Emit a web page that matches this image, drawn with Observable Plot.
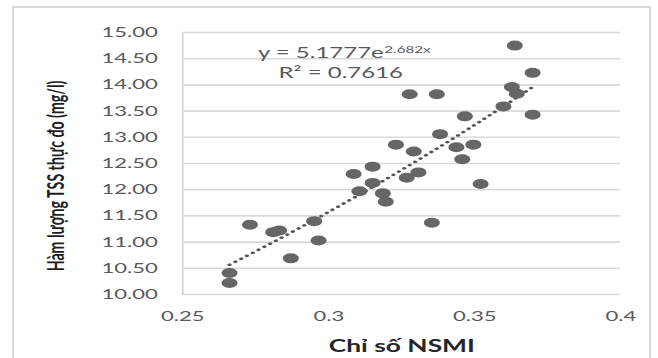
<!DOCTYPE html>
<html>
<head>
<meta charset="utf-8">
<script src="https://cdn.jsdelivr.net/npm/d3@7"></script>
<script src="https://cdn.jsdelivr.net/npm/@observablehq/plot@0.6"></script>
<style>
  html, body { margin: 0; padding: 0; background: #fff; }
  #wrap { position: relative; width: 658px; height: 358px; overflow: hidden; background: #fff; }
  #border { position: absolute; left: 12px; top: 6px; width: 639px; height: 400px; border: 2px solid #d9d9d9; box-sizing: border-box; }
  #chart { position: absolute; left: 0; top: 0; transform: scaleX(1.6); transform-origin: 0 0; }
</style>
</head>
<body>
<div id="wrap"><div id="border"></div><div id="chart"></div></div>
<script>
// Data
const nsmi = [0.266, 0.266, 0.273, 0.281, 0.283, 0.287, 0.295, 0.2965, 0.3085, 0.3105, 0.315, 0.315, 0.3185, 0.3195, 0.323, 0.3267, 0.3277, 0.3291, 0.3307, 0.3353, 0.337, 0.3381, 0.3437, 0.3457, 0.3466, 0.3495, 0.352, 0.3598, 0.3627, 0.3637, 0.3644, 0.3698, 0.3698];
const tss  = [10.41, 10.22, 11.33, 11.19, 11.22, 10.69, 11.40, 11.03, 12.30, 11.97, 12.44, 12.13, 11.93, 11.77, 12.86, 12.23, 13.82, 12.73, 12.33, 11.37, 13.82, 13.06, 12.81, 12.58, 13.40, 12.86, 12.11, 13.59, 13.96, 14.75, 13.83, 14.23, 13.43];
const xTicks = [0.25, 0.3, 0.35, 0.4];
const xTickLabels = ["0.25", "0.3", "0.35", "0.4"];
const yTicks = [10, 10.5, 11, 11.5, 12, 12.5, 13, 13.5, 14, 14.5, 15];
const fitA = 5.1777, fitB = 2.682;
const eqMain = "y = 5.1777e";
const eqSup = "2.682x";
const eqR2 = "R² = 0.7616";
const xTitle = "Chỉ số NSMI";
const yTitle = "Hàm lượng TSS thực đo (mg/l)";

const points = nsmi.map((x, i) => ({x, y: tss[i]}));
const trend = [...nsmi].sort((a, b) => a - b).map(x => ({x, y: fitA * Math.exp(fitB * x)}));

const S = 1.6;
const W0 = 658 / S;
const font = "Lato, 'Open Sans', sans-serif";

const plot = Plot.plot({
  width: W0,
  height: 358,
  marginLeft: 113.75,
  marginRight: 23.75,
  marginTop: 32,
  marginBottom: 64,
  style: {fontFamily: font, fontSize: "13.8px", color: "#595959", background: "transparent", overflow: "visible"},
  x: {domain: [xTicks[0], xTicks[xTicks.length - 1]], label: null},
  y: {domain: [yTicks[0], yTicks[yTicks.length - 1]], label: null},
  marks: [
    Plot.gridY(yTicks, {stroke: "#d9d9d9", strokeOpacity: 1, strokeWidth: 1.6}),
    Plot.ruleX([xTicks[0]], {stroke: "#d9d9d9", strokeWidth: 1.2}),
    Plot.axisY(yTicks, {tickSize: 0, tickPadding: 15.6, tickFormat: d3.format(".2f"), fill: "#595959", label: null}),
    Plot.axisX(xTicks, {tickSize: 0, tickPadding: 17, tickFormat: (d, i) => xTickLabels[i], fill: "#595959", label: null}),
    Plot.line(trend, {x: "x", y: "y", stroke: "#555", strokeWidth: 2.6, strokeDasharray: "0.1 4.6", strokeLinecap: "round"}),
    Plot.dot(points, {x: "x", y: "y", r: 5, fill: "#666", stroke: "none"}),
    Plot.text([eqMain], {frameAnchor: "top-left", dx: 125.6, dy: 25, textAnchor: "end", lineAnchor: "bottom", fontSize: 15, fill: "#595959"}),
    Plot.text([eqSup], {frameAnchor: "top-left", dx: 125.9, dy: 20, textAnchor: "start", lineAnchor: "bottom", fontSize: 9.5, fill: "#595959"}),
    Plot.text([eqR2], {frameAnchor: "top-left", dx: 98.75, dy: 45, textAnchor: "middle", lineAnchor: "bottom", fontSize: 15, fill: "#595959"}),
    Plot.text([xTitle], {frameAnchor: "bottom", dy: 57.7, textAnchor: "middle", lineAnchor: "bottom", fontSize: 16.5, fontWeight: "bold", fill: "#262626"}),
    Plot.text([yTitle], {frameAnchor: "left", dx: -74.4, dy: 12.5, rotate: -90, textAnchor: "middle", lineAnchor: "bottom", fontSize: 14.2, fontWeight: "bold", fill: "#1f1f1f", ariaLabel: "y-axis title"})
  ]
});
document.getElementById("chart").appendChild(plot);
// stretch the rotated y title along its length to counter the horizontal scale
const yt = plot.querySelector('g[aria-label="y-axis title"] text');
if (yt) { yt.setAttribute("textLength", "265"); yt.setAttribute("lengthAdjust", "spacingAndGlyphs"); }
</script>
</body>
</html>
